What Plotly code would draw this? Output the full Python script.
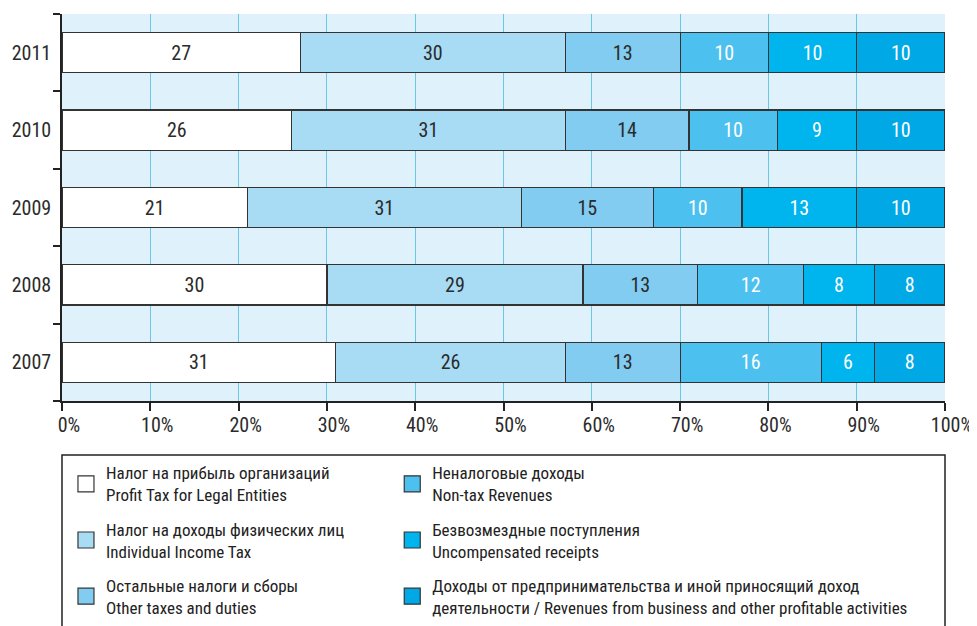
import plotly.graph_objects as go

years = ["2007", "2008", "2009", "2010", "2011"]
profit_tax = [31, 30, 21, 26, 27]
income_tax = [26, 29, 31, 31, 30]
other_taxes = [13, 13, 15, 14, 13]
non_tax = [16, 12, 10, 10, 10]
uncompensated = [6, 8, 13, 9, 10]
business = [8, 8, 10, 10, 10]

series_names = [
    "Налог на прибыль организаций<br>Profit Tax for Legal Entities",
    "Налог на доходы физических лиц<br>Individual Income Tax",
    "Остальные налоги и сборы<br>Other taxes and duties",
    "Неналоговые доходы<br>Non-tax Revenues",
    "Безвозмездные поступления<br>Uncompensated receipts",
    "Доходы от предпринимательства и иной приносящий доход<br>деятельности / Revenues from business and other profitable activities",
]
series_values = [profit_tax, income_tax, other_taxes, non_tax, uncompensated, business]
colors = ["#FFFFFF", "#A8DCF5", "#82CCF1", "#4CC1F0", "#00B4ED", "#00A9E6"]
text_colors = ["#2b2b2b", "#2b2b2b", "#2b2b2b", "#FFFFFF", "#FFFFFF", "#FFFFFF"]
legend_ids = ["legend", "legend", "legend", "legend2", "legend2", "legend2"]

FONT = "Noto Sans Condensed, Roboto Condensed, Liberation Sans Narrow, Roboto, sans-serif"

fig = go.Figure()
for name, vals, col, tcol in zip(series_names, series_values, colors, text_colors):
    fig.add_trace(go.Bar(
        x=vals, y=years, orientation="h",
        marker=dict(color=col, line=dict(color="#333333", width=1.2)),
        text=[str(v) for v in vals], textposition="inside",
        insidetextanchor="middle",
        textfont=dict(family=FONT, size=20, color=tcol),
        showlegend=False, hoverinfo="skip",
    ))

for i, (name, col, lg) in enumerate(zip(series_names, colors, legend_ids)):
    fig.add_trace(go.Scatter(
        x=[None], y=[None], mode="markers", name=name, legend=lg,
        legendgroup="g%d" % i,
        marker=dict(symbol="square", size=16, color=col,
                    line=dict(color="#333333", width=1.2)),
    ))

legend_common = dict(
    orientation="v", yanchor="top", y=-0.14, xanchor="left",
    font=dict(family=FONT, size=17, color="#222222"),
    bgcolor="rgba(0,0,0,0)", borderwidth=0, traceorder="grouped",
    tracegroupgap=9,
)

fig.update_layout(
    width=977, height=626,
    margin=dict(l=54, r=40, t=6, b=233, autoexpand=False),
    barmode="stack", bargap=0.483,
    plot_bgcolor="#DFF1FB", paper_bgcolor="#FFFFFF",
    font=dict(family=FONT, color="#2b2b2b"),
    xaxis=dict(
        range=[0, 100], tickvals=[0, 10, 20, 30, 40, 50, 60, 70, 80, 90, 100],
        ticktext=["0%", "10%", "20%", "30%", "40%", "50%", "60%", "70%", "80%", "90%", "100%"],
        showgrid=True, gridcolor="#6CC6E6", gridwidth=1, zeroline=False,
        showline=True, linecolor="#222222", linewidth=1.5,
        ticks="outside", ticklen=8, tickcolor="#222222", tickwidth=1.5,
        tickfont=dict(family=FONT, size=20, color="#2b2b2b"), automargin=False,
        ticklabelshift=7, ticklabelstandoff=-3,
    ),
    yaxis=dict(
        type="category", categoryorder="array", categoryarray=years,
        range=[-0.5, 4.5],
        showline=True, linecolor="#222222", linewidth=1.5,
        ticks="outside", tickson="boundaries", ticklen=7, tickcolor="#222222", tickwidth=1.5,
        showgrid=False, tickfont=dict(family=FONT, size=20, color="#2b2b2b"),
        ticklabelstandoff=5, automargin=False,
    ),
    legend=dict(x=0.0045, **legend_common),
    legend2=dict(x=0.374, **legend_common),
    shapes=[dict(type="rect", xref="paper", yref="paper", x0=0, x1=1, y0=-0.1395, y1=-0.65,
                 line=dict(color="#222222", width=1.5), fillcolor="rgba(0,0,0,0)", layer="below")],
)

fig.write_html("out.html")
